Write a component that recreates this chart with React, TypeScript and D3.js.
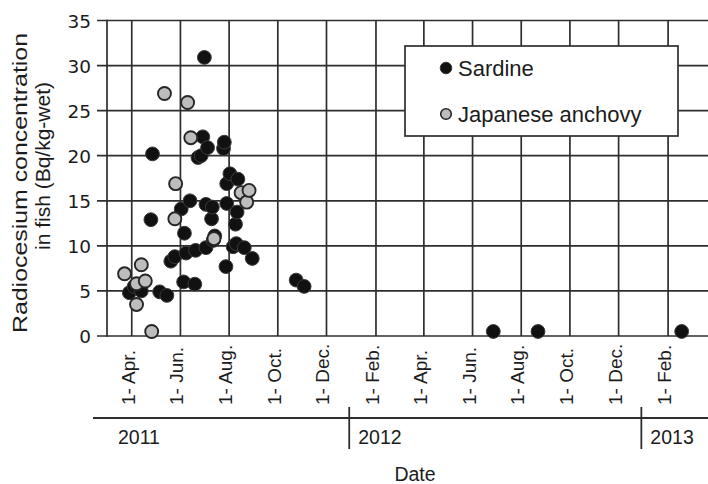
import { useEffect, useRef } from "react";
import * as d3 from "d3";

// values: [sampling date, Bq/kg-wet]
const sardine: [string, number][] = [
  ["2011-03-29", 4.8], ["2011-04-04", 5.5], ["2011-04-13", 5.0], ["2011-04-25", 12.9],
  ["2011-04-27", 20.2], ["2011-05-06", 4.9], ["2011-05-15", 4.5], ["2011-05-20", 8.3],
  ["2011-05-25", 8.8], ["2011-06-02", 14.1], ["2011-06-05", 6.0], ["2011-06-06", 11.4],
  ["2011-06-08", 9.2], ["2011-06-13", 15.0], ["2011-06-19", 5.75], ["2011-06-20", 9.5],
  ["2011-06-23", 19.8], ["2011-06-27", 20.0], ["2011-06-29", 22.1], ["2011-07-01", 30.9],
  ["2011-07-03", 9.8], ["2011-07-03", 14.6], ["2011-07-05", 20.9], ["2011-07-10", 13.0],
  ["2011-07-11", 14.3], ["2011-07-12", 10.6], ["2011-07-14", 11.1], ["2011-07-25", 20.8],
  ["2011-07-26", 21.5], ["2011-07-28", 7.7], ["2011-07-29", 16.9], ["2011-07-29", 14.7],
  ["2011-08-02", 18.0], ["2011-08-06", 9.9], ["2011-08-09", 12.4], ["2011-08-10", 10.25],
  ["2011-08-11", 13.75], ["2011-08-12", 17.4], ["2011-08-20", 9.8], ["2011-08-30", 8.6],
  ["2011-10-24", 6.2], ["2011-11-03", 5.5], ["2012-06-27", 0.5], ["2012-08-22", 0.5],
  ["2013-02-18", 0.5],
];

const anchovy: [string, number][] = [
  ["2011-03-23", 6.9], ["2011-04-07", 5.8], ["2011-04-07", 3.5], ["2011-04-13", 7.9],
  ["2011-04-18", 6.1], ["2011-04-26", 0.5], ["2011-05-12", 26.9], ["2011-05-25", 13.0],
  ["2011-05-26", 16.9], ["2011-06-10", 25.9], ["2011-06-14", 22.0], ["2011-07-13", 10.8],
  ["2011-08-16", 15.9], ["2011-08-23", 14.85], ["2011-08-26", 16.15],
];

const yTicks = [0, 5, 10, 15, 20, 25, 30, 35];
const years = ["2011", "2012", "2013"];
const legendItems = ["Sardine", "Japanese anchovy"];

const W = 708;
const H = 484;

export default function App() {
  const ref = useRef<SVGSVGElement>(null);

  useEffect(() => {
    const svg = d3.select(ref.current);
    svg.selectAll("*").remove();

    const parse = d3.timeParse("%Y-%m-%d");
    const x = d3.scaleTime()
      .domain([new Date(2011, 2, 1), new Date(2013, 2, 23)])
      .range([107, W]);
    const y = d3.scaleLinear().domain([0, 35]).range([336, 20.5]);

    const ink = "#1c1c1c";
    const sans = "'Liberation Sans', Arial, sans-serif";

    const monthTicks = d3.timeMonths(new Date(2011, 3, 1), new Date(2013, 2, 1), 2);
    const fmt = d3.timeFormat("%b");

    const grid = svg.append("g").attr("stroke", "#2e2e2e").attr("stroke-width", 1.7);
    grid.selectAll("line.h")
      .data(yTicks)
      .join("line")
      .attr("x1", 97).attr("x2", W)
      .attr("y1", d => y(d)).attr("y2", d => y(d));
    grid.selectAll("line.v")
      .data(monthTicks)
      .join("line")
      .attr("x1", d => x(d)).attr("x2", d => x(d))
      .attr("y1", y(35)).attr("y2", y(0));
    grid.append("line")
      .attr("x1", x.range()[0]).attr("x2", x.range()[0])
      .attr("y1", y(35) - 0.8).attr("y2", y(0) + 0.8);

    // y tick labels
    svg.append("g")
      .selectAll("text")
      .data(yTicks)
      .join("text")
      .attr("x", 91)
      .attr("y", d => y(d) + 7)
      .attr("text-anchor", "end")
      .attr("font-family", "'DejaVu Sans', sans-serif")
      .attr("font-size", 18.5)
      .attr("fill", ink)
      .text(d => d);

    // y title
    svg.append("text")
      .attr("transform", `translate(27, 183) rotate(-90)`)
      .attr("text-anchor", "middle")
      .attr("font-family", sans)
      .attr("font-size", 21)
      .attr("textLength", 300)
      .attr("lengthAdjust", "spacingAndGlyphs")
      .attr("fill", ink)
      .text("Radiocesium concentration");
    svg.append("text")
      .attr("transform", `translate(50, 166) rotate(-90)`)
      .attr("text-anchor", "middle")
      .attr("font-family", sans)
      .attr("font-size", 21)
      .attr("fill", ink)
      .text("in fish (Bq/kg-wet)");

    // month labels
    svg.append("g")
      .selectAll("text")
      .data(monthTicks)
      .join("text")
      .attr("transform", d => `translate(${x(d) + 3}, 405) rotate(-90)`)
      .attr("text-anchor", "start")
      .attr("font-family", sans)
      .attr("font-size", 19)
      .attr("fill", ink)
      .text(d => `1- ${fmt(d)}.`);

    // year band
    const yearLine = 418;
    svg.append("line")
      .attr("x1", 93).attr("x2", W)
      .attr("y1", yearLine).attr("y2", yearLine)
      .attr("stroke", "#2e2e2e").attr("stroke-width", 1.8);
    const yearStarts = years.map(yr => new Date(+yr, 0, 1));
    svg.append("g")
      .selectAll("line")
      .data(yearStarts.slice(1))
      .join("line")
      .attr("x1", d => x(d) - 2).attr("x2", d => x(d) - 2)
      .attr("y1", 407).attr("y2", 449)
      .attr("stroke", "#2e2e2e").attr("stroke-width", 1.8);
    svg.append("g")
      .selectAll("text")
      .data(years)
      .join("text")
      .attr("x", (d, i) => (i === 0 ? x.range()[0] + 11 : x(yearStarts[i]) + 7))
      .attr("y", 444)
      .attr("font-family", sans)
      .attr("font-size", 19.5)
      .attr("fill", ink)
      .text(d => d);

    svg.append("text")
      .attr("x", 415).attr("y", 481)
      .attr("text-anchor", "middle")
      .attr("font-family", sans)
      .attr("font-size", 19.5)
      .attr("fill", ink)
      .text("Date");

    // points
    const pts = svg.append("g");
    pts.selectAll("circle.s")
      .data(sardine)
      .join("circle")
      .attr("cx", d => x(parse(d[0])!))
      .attr("cy", d => y(d[1]))
      .attr("r", 6.9)
      .attr("fill", "#111")
      .attr("stroke", "#3a3a3a")
      .attr("stroke-width", 1);
    pts.selectAll("circle.a")
      .data(anchovy)
      .join("circle")
      .attr("cx", d => x(parse(d[0])!))
      .attr("cy", d => y(d[1]))
      .attr("r", 6.5)
      .attr("fill", "#bdbdbd")
      .attr("stroke", "#262626")
      .attr("stroke-width", 1.9);

    // legend
    const lg = svg.append("g");
    lg.append("rect")
      .attr("x", 405).attr("y", 46)
      .attr("width", 273).attr("height", 90)
      .attr("fill", "#fff")
      .attr("stroke", "#2e2e2e").attr("stroke-width", 1.7);
    const rows = lg.selectAll("g")
      .data(legendItems)
      .join("g")
      .attr("transform", (d, i) => `translate(446, ${68 + i * 46})`);
    rows.append("circle")
      .attr("r", (d, i) => (i === 0 ? 5.8 : 5.3))
      .attr("fill", (d, i) => (i === 0 ? "#111" : "#bdbdbd"))
      .attr("stroke", (d, i) => (i === 0 ? "#3a3a3a" : "#262626"))
      .attr("stroke-width", (d, i) => (i === 0 ? 1 : 1.6));
    rows.append("text")
      .attr("x", 12)
      .attr("y", 8)
      .attr("font-family", sans)
      .attr("font-size", 22)
      .attr("fill", ink)
      .text(d => d);
  }, []);

  return (
    <div style={{ position: "absolute", left: 0, top: 0 }}>
      <svg ref={ref} width={W} height={H} style={{ display: "block", background: "#fff" }} />
    </div>
  );
}
